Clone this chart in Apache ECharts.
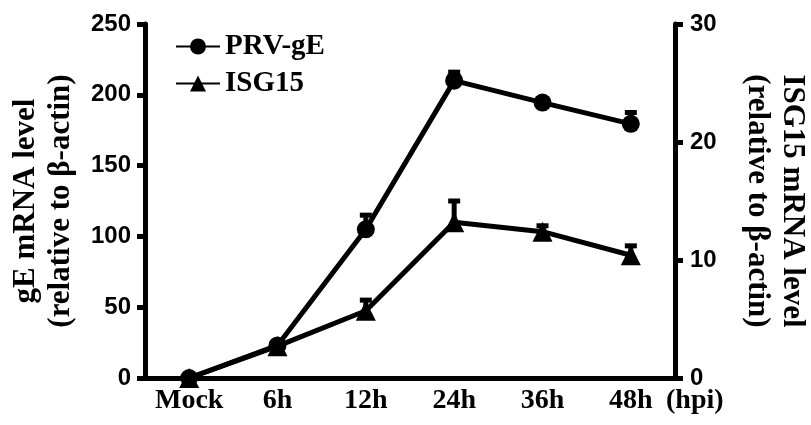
<!DOCTYPE html>
<html><head><meta charset="utf-8">
<script src="https://cdn.jsdelivr.net/npm/echarts@6/dist/echarts.min.js"></script>
<style>html,body{margin:0;padding:0;background:#fff}#c{width:811px;height:425px}</style>
</head><body><div id="c"></div>
<script>
const categories = ['Mock', '6h', '12h', '24h', '36h', '48h'];
const gEValues = [0, 23, 105, 210, 194.5, 179.5];
const gEErrors = [0, 1, 10, 6, 2, 8];
const isgValues = [0, 2.7, 5.7, 13.2, 12.4, 10.4];
const isgErrors = [0, 0.3, 0.9, 1.8, 0.5, 0.8];
const leftTicks = [0, 50, 100, 150, 200, 250];
const rightTicks = [0, 10, 20, 30];

const serif = '"Liberation Serif", "Times New Roman", serif';
const sans = '"Liberation Sans", Arial, sans-serif';

function errData(vals, errs) {
  return vals.map((v, i) => [i, v, v + errs[i]]);
}
function errRender(params, api) {
  const x = api.value(0);
  const lo = api.coord([x, api.value(1)]);
  const hi = api.coord([x, api.value(2)]);
  const w = 6;
  const st = { stroke: '#000', lineWidth: 5 };
  return { type: 'group', children: [
    { type: 'line', shape: { x1: hi[0], y1: hi[1], x2: lo[0], y2: lo[1] }, style: st },
    { type: 'line', shape: { x1: hi[0] - w, y1: hi[1], x2: hi[0] + w, y2: hi[1] }, style: st }
  ]};
}

const chart = echarts.init(document.getElementById('c'));
chart.setOption({
  animation: false,
  backgroundColor: '#fff',
  grid: { left: 145, right: 136, top: 24, bottom: 47, containLabel: false, outerBoundsMode: 'none' },
  legend: {
    orient: 'vertical', left: 170, top: 27, itemGap: 8, itemWidth: 44, itemHeight: 20,
    textStyle: { fontFamily: serif, fontWeight: 'bold', fontSize: 29, color: '#000' },
    data: ['PRV-gE', 'ISG15']
  },
  xAxis: {
    type: 'category', data: categories, boundaryGap: true,
    axisLine: { lineStyle: { color: '#000', width: 5 } },
    axisTick: { alignWithLabel: true, length: 8, lineStyle: { color: '#000', width: 5 } },
    axisLabel: { interval: 0, hideOverlap: false, fontFamily: serif, fontWeight: 'bold', fontSize: 28, color: '#000', margin: 9 },
    name: '(hpi)', nameLocation: 'end', nameGap: -9, nameMoveOverlap: false,
    nameTextStyle: { fontFamily: serif, fontWeight: 'bold', fontSize: 28, color: '#000', verticalAlign: 'top', padding: [9, 0, 0, 0] }
  },
  yAxis: [
    {
      type: 'value', min: leftTicks[0], max: leftTicks[leftTicks.length - 1], interval: 50,
      position: 'left', splitLine: { show: false },
      axisLine: { show: true, lineStyle: { color: '#000', width: 5 } },
      axisTick: { show: true, length: 8, lineStyle: { color: '#000', width: 5 } },
      axisLabel: { fontFamily: sans, fontWeight: 'bold', fontSize: 24, color: '#000', margin: 14 },
      name: 'gE mRNA level\n(relative to β-actin)', nameLocation: 'middle', nameRotate: 90, nameGap: 67,
      nameTextStyle: { fontFamily: serif, fontWeight: 'bold', fontSize: 31, color: '#000', lineHeight: 35 }
    },
    {
      type: 'value', min: rightTicks[0], max: rightTicks[rightTicks.length - 1], interval: 10,
      position: 'right', splitLine: { show: false },
      axisLine: { show: true, lineStyle: { color: '#000', width: 5 } },
      axisTick: { show: true, length: 8, lineStyle: { color: '#000', width: 5 } },
      axisLabel: { fontFamily: sans, fontWeight: 'bold', fontSize: 24, color: '#000', margin: 15 },
      name: 'ISG15 mRNA level\n(relative to β-actin)', nameLocation: 'middle', nameRotate: -90, nameGap: 65,
      nameTextStyle: { fontFamily: serif, fontWeight: 'bold', fontSize: 31, color: '#000', lineHeight: 35 }
    }
  ],
  series: [
    { type: 'custom', yAxisIndex: 0, renderItem: errRender, data: errData(gEValues, gEErrors), z: 1 },
    { type: 'custom', yAxisIndex: 1, renderItem: errRender, data: errData(isgValues, isgErrors), z: 1 },
    {
      name: 'PRV-gE', type: 'line', yAxisIndex: 0, data: gEValues,
      symbol: 'circle', symbolSize: 18, z: 3,
      lineStyle: { color: '#000', width: 5 }, itemStyle: { color: '#000' }
    },
    {
      name: 'ISG15', type: 'line', yAxisIndex: 1, data: isgValues,
      symbol: 'triangle', symbolSize: 20, z: 3,
      lineStyle: { color: '#000', width: 5 }, itemStyle: { color: '#000' }
    }
  ]
});
</script></body></html>
